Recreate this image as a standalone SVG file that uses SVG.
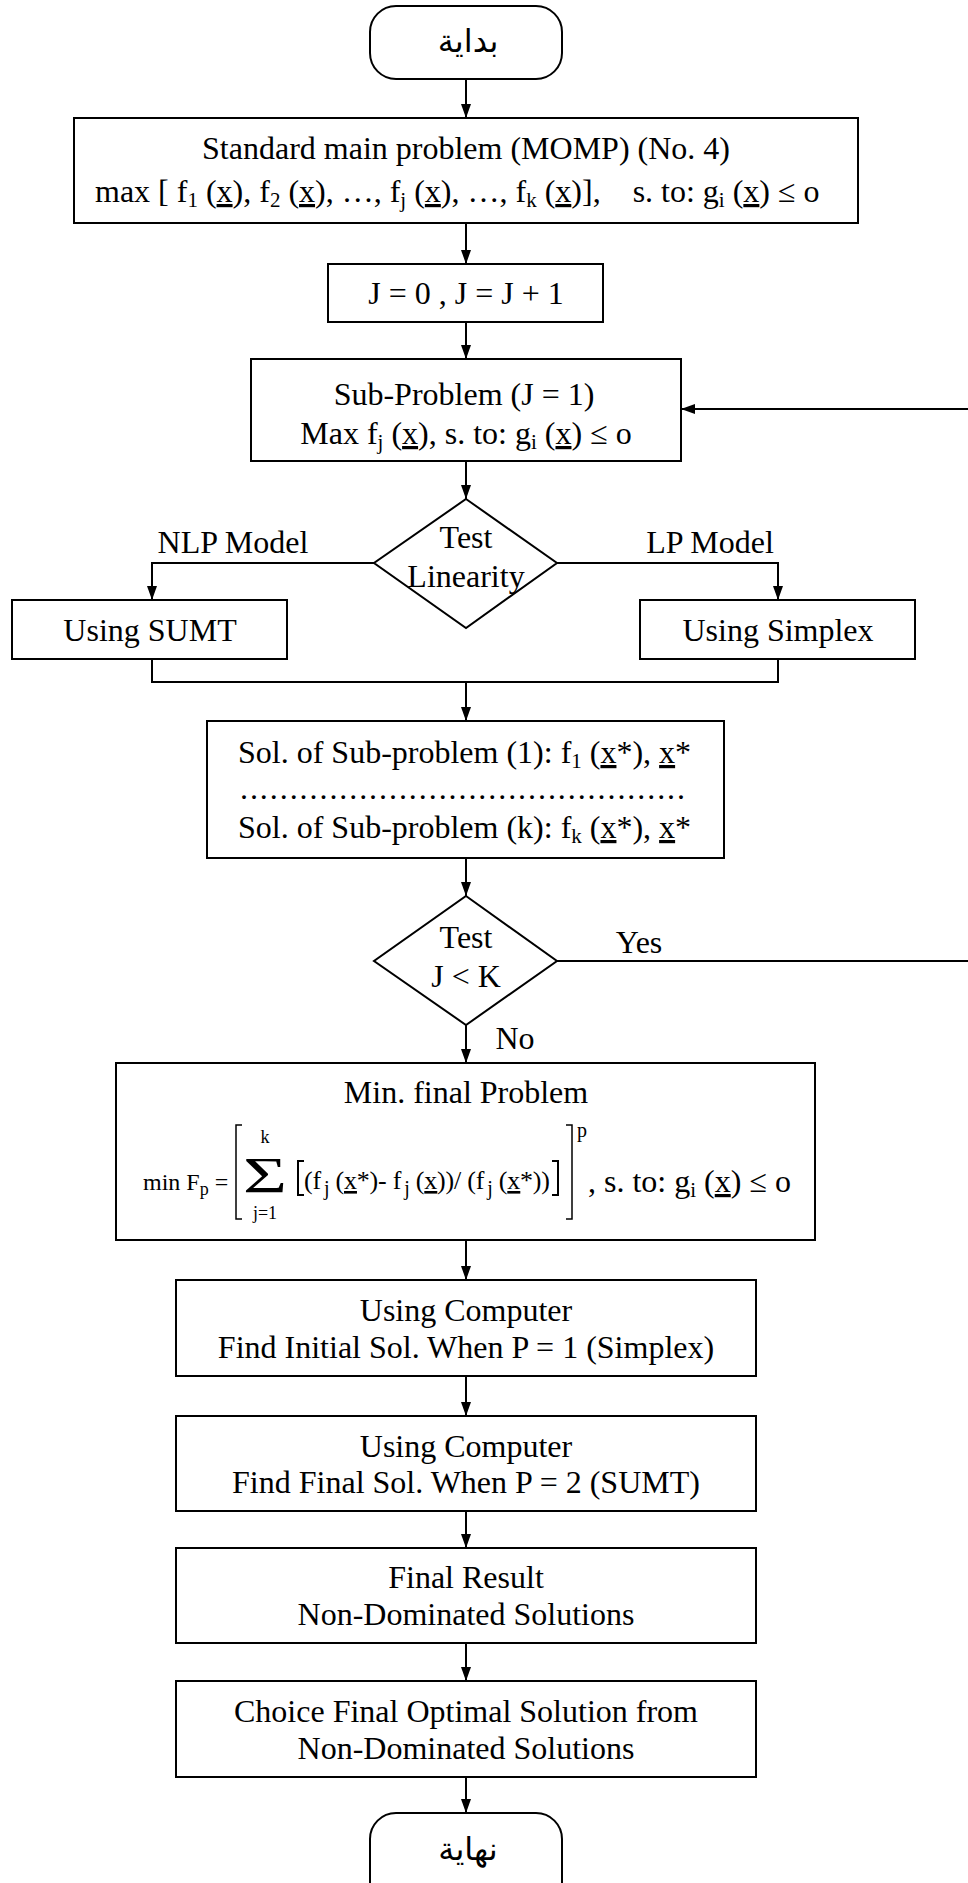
<svg xmlns="http://www.w3.org/2000/svg" width="968" height="1883" viewBox="0 0 968 1883">
<defs>
<marker id="ah" viewBox="0 0 14 10" refX="14" refY="5" markerWidth="14" markerHeight="10" markerUnits="userSpaceOnUse" orient="auto">
<path d="M0,0 L14,5 L0,10 z" fill="#000"/>
</marker>
<style>
.box{fill:#fff;stroke:#000;stroke-width:2}
.ln{fill:none;stroke:#000;stroke-width:2}
.br{fill:none;stroke:#000;stroke-width:1.5}
.t{font-family:"Liberation Serif","Times New Roman",serif;font-size:32px;fill:#000}
.m{text-anchor:middle}
.ar{font-family:"DejaVu Sans",sans-serif;font-size:32px;fill:#000;text-anchor:middle}
.sb{font-size:21px;baseline-shift:-5px}
.u{text-decoration:underline}
.f{font-family:"Liberation Serif","Times New Roman",serif;font-size:24px;fill:#000}
.fs{font-size:18px;baseline-shift:-5px}
.fi{font-size:26px}
.fis{font-size:20px;baseline-shift:-6px}
</style>
</defs>
<rect width="968" height="1883" fill="#fff"/>
<g id="connectors">
<path class="ln" d="M466,79 V118" marker-end="url(#ah)"/>
<path class="ln" d="M466,223 V264" marker-end="url(#ah)"/>
<path class="ln" d="M466,322 V359" marker-end="url(#ah)"/>
<path class="ln" d="M466,461 V499" marker-end="url(#ah)"/>
<path class="ln" d="M374,563 H152 V600" marker-end="url(#ah)"/>
<path class="ln" d="M557,563 H778 V600" marker-end="url(#ah)"/>
<path class="ln" d="M152,659 V682 H778 V659"/>
<path class="ln" d="M466,682 V721" marker-end="url(#ah)"/>
<path class="ln" d="M466,858 V896" marker-end="url(#ah)"/>
<path class="ln" d="M466,1025 V1063" marker-end="url(#ah)"/>
<path class="ln" d="M557,961 H990 V409 H681" marker-end="url(#ah)"/>
<path class="ln" d="M466,1240 V1280" marker-end="url(#ah)"/>
<path class="ln" d="M466,1376 V1416" marker-end="url(#ah)"/>
<path class="ln" d="M466,1511 V1548" marker-end="url(#ah)"/>
<path class="ln" d="M466,1643 V1681" marker-end="url(#ah)"/>
<path class="ln" d="M466,1777 V1813" marker-end="url(#ah)"/>
<text class="t m" x="233" y="553">NLP Model</text>
<text class="t m" x="710" y="553">LP Model</text>
<text class="t m" x="639" y="953">Yes</text>
<text class="t m" x="515" y="1049">No</text>
</g>
<g id="start">
<rect class="box" x="370" y="6" width="192" height="73" rx="26"/>
<text class="ar" x="468" y="52">بداية</text>
</g>
<g id="main-problem">
<rect class="box" x="74" y="118" width="784" height="105"/>
<text class="t m" x="466" y="159">Standard main problem (MOMP) (No. 4)</text>
<text class="t" x="95" y="202" xml:space="preserve">max [ f<tspan class="sb">1</tspan> (<tspan class="u">x</tspan>), f<tspan class="sb">2</tspan> (<tspan class="u">x</tspan>), …, f<tspan class="sb">j</tspan> (<tspan class="u">x</tspan>), …, f<tspan class="sb">k</tspan> (<tspan class="u">x</tspan>)],    s. to: g<tspan class="sb">i</tspan> (<tspan class="u">x</tspan>) ≤ o</text>
</g>
<g id="init-j">
<rect class="box" x="328" y="264" width="275" height="58"/>
<text class="t m" x="466" y="304">J = 0 , J = J + 1</text>
</g>
<g id="sub-problem">
<rect class="box" x="251" y="359" width="430" height="102"/>
<text class="t m" x="464" y="405">Sub-Problem (J = 1)</text>
<text class="t m" x="466" y="444">Max f<tspan class="sb">j</tspan> (<tspan class="u">x</tspan>), s. to: g<tspan class="sb">i</tspan> (<tspan class="u">x</tspan>) ≤ o</text>
</g>
<g id="test-linearity">
<polygon class="box" points="466,499 557,563 466,628 374,563"/>
<text class="t m" x="466" y="548">Test</text>
<text class="t m" x="466" y="587">Linearity</text>
</g>
<g id="using-sumt">
<rect class="box" x="12" y="600" width="275" height="59"/>
<text class="t m" x="150" y="641">Using SUMT</text>
</g>
<g id="using-simplex">
<rect class="box" x="640" y="600" width="275" height="59"/>
<text class="t m" x="778" y="641">Using Simplex</text>
</g>
<g id="solutions">
<rect class="box" x="207" y="721" width="517" height="137"/>
<text class="t" x="238" y="763">Sol. of Sub-problem (1): f<tspan class="sb">1</tspan> (<tspan class="u">x</tspan>*), <tspan class="u">x</tspan>*</text>
<text class="t" x="240" y="799" textLength="445" lengthAdjust="spacing">.............................................</text>
<text class="t" x="238" y="838">Sol. of Sub-problem (k): f<tspan class="sb">k</tspan> (<tspan class="u">x</tspan>*), <tspan class="u">x</tspan>*</text>
</g>
<g id="test-jk">
<polygon class="box" points="466,896 557,961 466,1025 374,961"/>
<text class="t m" x="466" y="948">Test</text>
<text class="t m" x="466" y="987">J &lt; K</text>
</g>
<g id="min-final">
<rect class="box" x="116" y="1063" width="699" height="177"/>
<text class="t m" x="466" y="1103">Min. final Problem</text>
<text class="f" x="143" y="1190">min F<tspan class="fs">p</tspan> =</text>
<path class="br" d="M242,1125 H236 V1219 H242"/>
<text class="f m" x="265" y="1143" style="font-size:18px">k</text>
<text class="f" x="243" y="1192" style="font-size:50px" textLength="44" lengthAdjust="spacingAndGlyphs">Σ</text>
<text class="f m" x="265" y="1219" style="font-size:18px">j=1</text>
<path class="br" d="M304,1161 H298 V1195 H304" style="stroke-width:2"/>
<text class="f fi" x="304" y="1189" textLength="246" lengthAdjust="spacing">(f<tspan class="fis" dx="3">j</tspan> (<tspan class="u">x</tspan>*)- f<tspan class="fis" dx="3">j</tspan> (<tspan class="u">x</tspan>))/ (f<tspan class="fis" dx="3">j</tspan> (<tspan class="u">x</tspan>*))</text>
<path class="br" d="M552,1161 H558 V1195 H552" style="stroke-width:2"/>
<path class="br" d="M566,1125 H572 V1219 H566"/>
<text class="f" x="577" y="1137" style="font-size:20px">p</text>
<text class="t" x="588" y="1192">, s. to: g<tspan class="sb">i</tspan> (<tspan class="u">x</tspan>) ≤ o</text>
</g>
<g id="initial-sol">
<rect class="box" x="176" y="1280" width="580" height="96"/>
<text class="t m" x="466" y="1321">Using Computer</text>
<text class="t m" x="466" y="1358">Find Initial Sol. When P = 1 (Simplex)</text>
</g>
<g id="final-sol">
<rect class="box" x="176" y="1416" width="580" height="95"/>
<text class="t m" x="466" y="1457">Using Computer</text>
<text class="t m" x="466" y="1493">Find Final Sol. When P = 2 (SUMT)</text>
</g>
<g id="final-result">
<rect class="box" x="176" y="1548" width="580" height="95"/>
<text class="t m" x="466" y="1588">Final Result</text>
<text class="t m" x="466" y="1625">Non-Dominated Solutions</text>
</g>
<g id="choice">
<rect class="box" x="176" y="1681" width="580" height="96"/>
<text class="t m" x="466" y="1722">Choice Final Optimal Solution from</text>
<text class="t m" x="466" y="1759">Non-Dominated Solutions</text>
</g>
<g id="end">
<rect class="box" x="370" y="1813" width="192" height="95" rx="26"/>
<text class="ar" x="468" y="1860">نهاية</text>
</g>
</svg>
